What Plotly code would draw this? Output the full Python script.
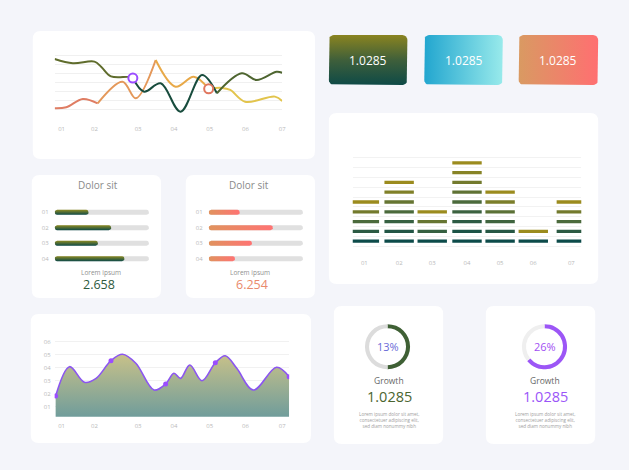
import numpy as np
import plotly.graph_objects as go
from plotly.colors import sample_colorscale

W, H = 629, 470
FONT = "Open Sans"
TICK = "#b9b9b9"
BG = "#f4f5fa"

# ---- data ----
week_labels = ["01", "02", "03", "04", "05", "06", "07"]
week_pos = [7, 40, 84, 120, 156, 192, 229]

green_x = [0, 18.3, 40, 47, 56.7, 75, 78.7, 90, 106.7, 126.7, 148.3, 163.3, 188.3, 203.3, 223.3, 229]
green_y = [5.65, 5.17, 5.35, 4.75, 3.70, 3.63, 3.51, 1.98, 2.92, -0.27, 3.85, 1.80, 4.04, 3.29, 4.22, 4.11]
orange_x = [0, 11.7, 28.3, 43.3, 68.3, 81.7, 101.7, 121.7, 140, 155, 168.3, 176.7, 191.7, 221.7, 229]
orange_y = [0.11, 0.22, 1.16, 0.67, 3.10, 1.24, 5.54, 2.54, 3.66, 2.30, 2.40, 2.17, 0.85, 1.42, 0.93]
green_mark = 6
orange_mark = 9

eq_pos = [11.7, 46.7, 80, 115, 148.3, 181.7, 220]
eq_counts = [5, 7, 4, 9, 6, 2, 5]

row_labels = ["01", "02", "03", "04"]
dolor_green = [0.36, 0.60, 0.46, 0.74]
dolor_coral = [0.33, 0.68, 0.46, 0.28]

area_x = [1, 15, 30, 41.7, 56.7, 68.3, 81.7, 100, 111.7, 120, 126.7, 136, 148.3, 161.7, 171.7, 183.3, 200, 223.3, 236]
area_y = [1.82, 4.08, 2.88, 3.18, 4.54, 5.03, 4.34, 2.28, 2.75, 3.57, 3.18, 4.21, 3.0, 4.38, 4.92, 3.95, 2.28, 4.03, 3.31]
area_marks = [0, 4, 8, 13, 18]
area_labels = ["01", "02", "03", "04", "05", "06"]

stat_values = ["1.0285", "1.0285", "1.0285"]
growth_pct = ["13%", "26%"]
growth_arc = [50, 64]
growth_values = ["1.0285", "1.0285"]
dolor_totals = ["2.658", "6.254"]


def dom_x(a, b):
    return [a / W, b / W]


def dom_y(top, bottom):
    return [1 - bottom / H, 1 - top / H]


def card_path(x0, y0, x1, y1, r):
    X = lambda v: v / W
    Y = lambda v: 1 - v / H
    return (f"M{X(x0 + r)},{Y(y0)} L{X(x1 - r)},{Y(y0)} Q{X(x1)},{Y(y0)} {X(x1)},{Y(y0 + r)} "
            f"L{X(x1)},{Y(y1 - r)} Q{X(x1)},{Y(y1)} {X(x1 - r)},{Y(y1)} L{X(x0 + r)},{Y(y1)} "
            f"Q{X(x0)},{Y(y1)} {X(x0)},{Y(y1 - r)} L{X(x0)},{Y(y0 + r)} Q{X(x0)},{Y(y0)} {X(x0 + r)},{Y(y0)} Z")


def box_pts(x0, y0, x1, y1, r, n=7):
    xs, ys = [], []
    for cx, cy, a0 in [(x1 - r, y0 + r, -90), (x1 - r, y1 - r, 0), (x0 + r, y1 - r, 90), (x0 + r, y0 + r, 180)]:
        a = np.radians(np.linspace(a0, a0 + 90, n))
        xs += list(cx + r * np.cos(a))
        ys += list(H - (cy + r * np.sin(a)))
    return xs + xs[:1], ys + ys[:1]


def capsule(x0, x1, yc, rx, ry, n=8):
    tr = np.linspace(-np.pi / 2, np.pi / 2, n)
    tl = np.linspace(np.pi / 2, 3 * np.pi / 2, n)
    xs = np.concatenate([x1 - rx + rx * np.cos(tr), x0 + rx + rx * np.cos(tl)])
    ys = np.concatenate([yc + ry * np.sin(tr), yc + ry * np.sin(tl)])
    return list(xs) + [xs[0]], list(ys) + [ys[0]]


fig = go.Figure()

# ---- top line chart ----
green_parts = [(0, 6, "#5f6c2c"), (6, 11, "#184c3d"), (11, 15, "#4e6530")]
orange_parts = [(0, 3, "#df7d63"), (3, 6, "#e4985a"), (6, 9, "#e8a948"), (9, 14, "#e2c44c")]
for a, b, c in orange_parts:
    fig.add_trace(go.Scatter(x=orange_x[a:b + 1], y=orange_y[a:b + 1], mode="lines",
                             line=dict(color=c, width=2, shape="spline"), xaxis="x", yaxis="y"))
for a, b, c in green_parts:
    fig.add_trace(go.Scatter(x=green_x[a:b + 1], y=green_y[a:b + 1], mode="lines",
                             line=dict(color=c, width=2, shape="spline"), xaxis="x", yaxis="y"))
fig.add_trace(go.Scatter(x=[green_x[green_mark]], y=[green_y[green_mark]], mode="markers",
                         marker=dict(size=9, color="white", line=dict(color="#9b4dff", width=2)),
                         xaxis="x", yaxis="y"))
fig.add_trace(go.Scatter(x=[orange_x[orange_mark]], y=[orange_y[orange_mark]], mode="markers",
                         marker=dict(size=9, color="white", line=dict(color="#e0775f", width=2)),
                         xaxis="x", yaxis="y"))

# ---- equalizer chart ----
eq_scale = [[0, "#0d4b4a"], [0.5, "#4b6a3c"], [1, "#9b8b1e"]]
ex, ey, ec = [], [], []
for p, n in zip(eq_pos, eq_counts):
    cols = sample_colorscale(eq_scale, [k / (n - 1) for k in range(n)])
    for k in range(n):
        ex.append(p)
        ey.append(k + 1)
        ec.append(cols[k])
fig.add_trace(go.Scatter(x=ex, y=ey, mode="markers", xaxis="x2", yaxis="y2",
                         marker=dict(symbol="line-ew", size=21, line=dict(width=3.3, color=ec))))

# ---- dolor sit bars ----
rx, ry = 2.5 / 95, 2.5 / 15.45
for ax, vals, grad in [("3", dolor_green, dict(type="vertical", colorscale=[[0, "#0d4a48"], [1, "#8c8a22"]])),
                       ("4", dolor_coral, dict(type="horizontal", colorscale=[[0, "#e0935e"], [1, "#ff7373"]]))]:
    tx, ty = [], []
    for i in range(len(vals)):
        cx, cy = capsule(0, 1, 3 - i, rx, ry)
        tx += cx + [None]
        ty += cy + [None]
    fig.add_trace(go.Scatter(x=tx, y=ty, mode="lines", fill="toself", fillcolor="#e0e0e0",
                             line=dict(width=0), xaxis="x" + ax, yaxis="y" + ax))
    for i, v in enumerate(vals):
        cx, cy = capsule(0, v, 3 - i, rx, ry)
        fig.add_trace(go.Scatter(x=cx, y=cy, mode="lines", fill="toself", fillgradient=grad,
                                 line=dict(width=0), xaxis="x" + ax, yaxis="y" + ax))

# ---- area chart ----
fig.add_trace(go.Scatter(x=area_x, y=area_y, mode="lines", fill="tozeroy",
                         fillgradient=dict(type="vertical", colorscale=[[0, "#6c9b9c"], [1, "#c8c189"]]),
                         line=dict(color="#8b55f0", width=1.6, shape="spline"), xaxis="x5", yaxis="y5"))
fig.add_trace(go.Scatter(x=[area_x[i] for i in area_marks], y=[area_y[i] for i in area_marks],
                         mode="markers", marker=dict(size=5, color="#9b4dff"), xaxis="x5", yaxis="y5"))

# ---- gradient stat boxes (page axis) ----
boxes = [((331, 35, 410, 85), dict(type="vertical", colorscale=[[0, "#0e4a47"], [0.5, "#3f5f3a"], [1, "#8a8420"]])),
         ((427, 35, 506, 85), dict(type="horizontal", colorscale=[[0, "#22a6cf"], [1, "#98eaeb"]])),
         ((522, 35, 602, 85), dict(type="horizontal", colorscale=[[0, "#d99a62"], [1, "#ff6f71"]]))]
for (x0, y0, x1, y1), grad in boxes:
    bx, by = box_pts(x0, y0, x1, y1, 5)
    fig.add_trace(go.Scatter(x=bx, y=by, mode="lines", fill="toself", fillgradient=grad,
                             line=dict(width=0), xaxis="x6", yaxis="y6"))

# ---- donuts ----
for cx, arc, col, rest in [(390, growth_arc[0], "#3f6035", "#dcdcdc"), (548, growth_arc[1], "#9c56f6", "#efefef")]:
    r = 22.7
    fig.add_trace(go.Pie(values=[arc, 100 - arc], hole=0.82, sort=False, direction="clockwise", rotation=0,
                         textinfo="none", hoverinfo="skip", marker=dict(colors=[col, rest], line=dict(width=0)),
                         domain=dict(x=dom_x(cx - r, cx + r), y=dom_y(346.7 - r, 346.7 + r))))

for tr in fig.data:
    tr.showlegend = False
    tr.hoverinfo = "skip"

# ---- cards ----
cards = [(33, 31, 317, 159), (331, 113, 602, 284), (32, 175, 162, 298), (187, 175, 317, 298),
         (31, 314, 313, 443), (336, 306, 446, 444), (489, 306, 599, 444)]
shapes = [dict(type="path", path=card_path(*c, 8), xref="paper", yref="paper", fillcolor="white",
               line=dict(width=0), layer="below") for c in cards]

# ---- texts ----
texts = [("Dolor sit", 99, 185, 10, "#8a8a8a"), ("Dolor sit", 251, 185, 10, "#8a8a8a"),
         ("Lorem ipsum", 102, 272.7, 6.5, "#8f8f8f"), ("Lorem ipsum", 251.5, 272.7, 6.5, "#8f8f8f"),
         (dolor_totals[0], 100, 284.5, 12.5, "#2e5a3e"), (dolor_totals[1], 254, 284.5, 12.5, "#e98a6c"),
         (growth_pct[0], 390, 346.7, 11, "#6a6bd8"), (growth_pct[1], 548, 346.7, 11, "#a24ff3"),
         ("Growth", 391.5, 380.7, 8.5, "#666666"), ("Growth", 548.5, 380.7, 8.5, "#666666"),
         (growth_values[0], 391.5, 396.5, 14.5, "#4b6530"), (growth_values[1], 548.5, 396.5, 14.5, "#9a55f8")]
for v, cx in zip(stat_values, [370.5, 466.5, 562]):
    texts.append((v, cx, 60.5, 12, "white"))
lorem = "Lorem ipsum dolor sit amet,<br>consectetuer adipiscing elit,<br>sed diam nonummy nibh"
texts += [(lorem, 391.5, 420.3, 4.6, "#a0a0a0"), (lorem, 548.5, 420.3, 4.6, "#a0a0a0")]
annotations = [dict(text=t, x=x / W, y=1 - y / H, xref="paper", yref="paper", showarrow=False,
                    xanchor="center", yanchor="middle", font=dict(size=s, color=c, family=FONT))
               for t, x, y, s, c in texts]

tickfont = dict(size=6, color=TICK, family=FONT)
hidden = dict(visible=False, showgrid=False, zeroline=False)

fig.update_layout(
    width=W, height=H, margin=dict(l=0, r=0, t=0, b=0),
    paper_bgcolor=BG, plot_bgcolor="rgba(0,0,0,0)",
    showlegend=False, shapes=shapes, annotations=annotations,
    font=dict(family=FONT),
    xaxis=dict(domain=dom_x(55, 284), range=[0, 229], tickvals=week_pos, ticktext=week_labels,
               showgrid=False, zeroline=False, ticks="", tickfont=tickfont, ticklabelstandoff=10, anchor="y"),
    yaxis=dict(domain=dom_y(50, 114), range=[-0.53, 6.66], tickvals=list(range(7)), showticklabels=False,
               gridcolor="#f0f0f0", zeroline=False, anchor="x"),
    xaxis2=dict(domain=dom_x(355, 585), range=[0, 230], tickvals=eq_pos, ticktext=week_labels,
                showgrid=False, zeroline=False, ticks="", tickfont=tickfont, ticklabelstandoff=8, anchor="y2"),
    yaxis2=dict(domain=dom_y(152, 250), range=[0.1, 10.1], tick0=0.5, dtick=1, showticklabels=False,
                gridcolor="#f2f2f2", zeroline=False, anchor="x2"),
    xaxis3=dict(domain=dom_x(55, 150), range=[0, 1], anchor="y3", **hidden),
    yaxis3=dict(domain=dom_y(204.6, 266.4), range=[-0.5, 3.5], tickvals=[3, 2, 1, 0], ticktext=row_labels,
                showgrid=False, zeroline=False, ticks="", tickfont=tickfont, ticklabelstandoff=5, anchor="x3"),
    xaxis4=dict(domain=dom_x(210, 305), range=[0, 1], anchor="y4", **hidden),
    yaxis4=dict(domain=dom_y(204.6, 266.4), range=[-0.5, 3.5], tickvals=[3, 2, 1, 0], ticktext=row_labels,
                showgrid=False, zeroline=False, ticks="", tickfont=tickfont, ticklabelstandoff=5, anchor="x4"),
    xaxis5=dict(domain=dom_x(55, 291), range=[0, 236], tickvals=week_pos, ticktext=week_labels,
                showgrid=False, zeroline=False, ticks="", tickfont=tickfont, ticklabelstandoff=4, anchor="y5"),
    yaxis5=dict(domain=dom_y(336, 416.7), range=[0.23, 6.44], tickvals=[1, 2, 3, 4, 5, 6], ticktext=area_labels,
                gridcolor="#f1f1f1", zeroline=False, ticks="", tickfont=tickfont, ticklabelstandoff=3, anchor="x5"),
    xaxis6=dict(domain=[0, 1], range=[0, W], anchor="y6", **hidden),
    yaxis6=dict(domain=[0, 1], range=[0, H], anchor="x6", **hidden),
)

page_js = f"document.body.style.margin='0';document.body.style.background='{BG}';"
fig.write_html("out.html", config=dict(displayModeBar=False), post_script=page_js)
